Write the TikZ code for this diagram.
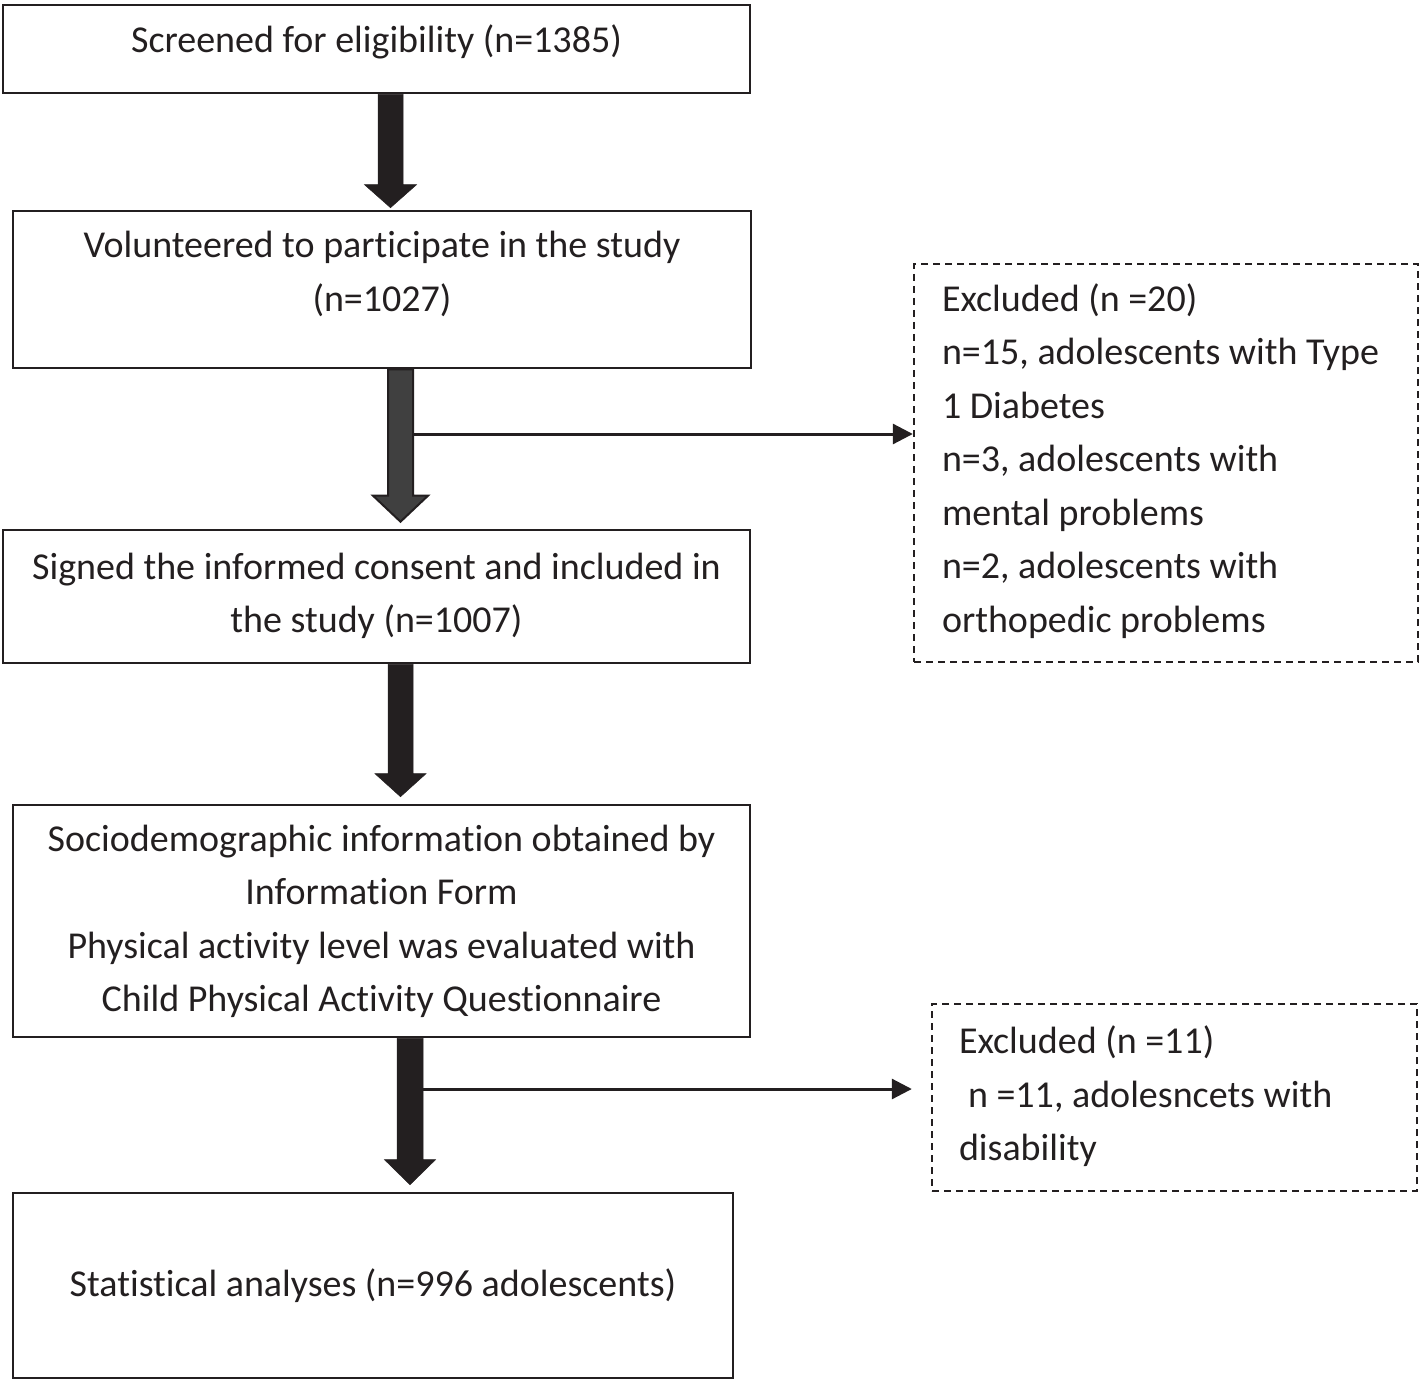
\documentclass[tikz,border=0pt]{standalone}
\usepackage{fontspec}
\setmainfont{Carlito}[Ligatures={NoCommon}]
\usetikzlibrary{calc,arrows.meta}
\definecolor{ink}{HTML}{231F20}
\definecolor{shaftgray}{HTML}{404040}
\newcommand\myblockarrow[5]{% #1 style, #2 start name, #3 end name, #4 half shaft, #5 half head, head length via \myhl
  \draw[#1] ($(#2)+(-#4,0)$) -- ($(#3)+(-#4,-\myhl)$) -- ($(#3)+(-#5,-\myhl)$) -- (#3) -- ($(#3)+(#5,-\myhl)$) -- ($(#3)+(#4,-\myhl)$) -- ($(#2)+(#4,0)$) -- cycle;}
\begin{document}
\begin{tikzpicture}[x=1pt,y=-1pt,
  every node/.style={font=\fontsize{38}{53.5}\selectfont, text=ink, inner sep=0pt},
  frame/.style={draw=ink, line width=2.6pt, rectangle},
  dashframe/.style={draw=ink, line width=2.4pt, dash pattern=on 7pt off 5pt, rectangle},
  darkarrow/.style={fill=ink, draw=ink, line width=0.5pt},
  grayarrow/.style={fill=shaftgray, draw=ink, line width=2pt, line join=miter},
  thinarrow/.style={draw=ink, line width=3pt, -{Triangle[length=20pt,width=20pt]}}]
\useasboundingbox (0,0) rectangle (1424,1380);

\node[frame, minimum width=747pt, minimum height=88pt] (b1) at (376.5,49)
  {\begin{tabular}{@{}c@{}}Screened for eligibility (n=1385)\\[14pt]\end{tabular}};
\node[frame, minimum width=738pt, minimum height=157pt] (b2) at (382,289.5)
  {\begin{tabular}{@{}c@{}}Volunteered to participate in the study\\(n=1027)\\[31pt]\end{tabular}};
\node[frame, minimum width=747pt, minimum height=133pt] (b3) at (376.5,596.5)
  {\begin{tabular}{@{}c@{}}Signed the informed consent and included in\\the study (n=1007)\\[2pt]\end{tabular}};
\node[frame, minimum width=737pt, minimum height=232pt] (b4) at (381.5,921)
  {\begin{tabular}{@{}c@{}}Sociodemographic information obtained by\\Information Form\\Physical activity level was evaluated with\\Child Physical Activity Questionnaire\end{tabular}};
\node[frame, minimum width=720pt, minimum height=185pt] (b5) at (373,1285.5)
  {\begin{tabular}{@{}c@{}}Statistical analyses (n=996 adolescents)\end{tabular}};

\node[dashframe, minimum width=504pt, minimum height=398pt] (d1) at (1166,463)
  {\makebox[504pt][l]{\hspace{28pt}\begin{tabular}{@{}l@{}}Excluded (n =20)\\n=15, adolescents with Type\\1 Diabetes\\n=3, adolescents with\\mental problems\\n=2, adolescents with\\orthopedic problems\\[4pt]\end{tabular}}};
\node[dashframe, minimum width=485pt, minimum height=187pt] (d2) at (1174.5,1097.5)
  {\makebox[485pt][l]{\hspace{27pt}\begin{tabular}{@{}l@{}}Excluded (n =11)\\\hspace{9pt}n =11, adolesncets with\\disability\\[2pt]\end{tabular}}};

% arrow axes
\coordinate (a1) at (390.5,0);
\coordinate (a2) at (400.5,0);
\coordinate (a3) at (400.5,0);
\coordinate (a4) at (410,0);

\coordinate (s1) at (b1.south -| a1);
\coordinate (e1) at ($(b2.north -| a1)+(0,-2)$);
\coordinate (s2) at (b2.south -| a2);
\coordinate (e2) at ($(b3.north -| a2)+(0,-7)$);
\coordinate (s3) at (b3.south -| a3);
\coordinate (e3) at ($(b4.north -| a3)+(0,-7)$);
\coordinate (s4) at (b4.south -| a4);
\coordinate (e4) at ($(b5.north -| a4)+(0,-7)$);

\def\myhl{23}\myblockarrow{darkarrow}{s1}{e1}{12.5}{26}
\def\myhl{26}\myblockarrow{grayarrow}{s2}{e2}{12.5}{27.5}
\def\myhl{23}\myblockarrow{darkarrow}{s3}{e3}{12.5}{25.5}
\def\myhl{25}\myblockarrow{darkarrow}{s4}{e4}{13}{25.5}

\coordinate (j1) at (413.5,434);
\coordinate (j2) at (422.5,1089);
\draw[thinarrow] (j1) -- (j1 -| d1.west);
\draw[thinarrow] (j2) -- ($(j2 -| d2.west)+(-19,0)$);
\end{tikzpicture}
\end{document}
